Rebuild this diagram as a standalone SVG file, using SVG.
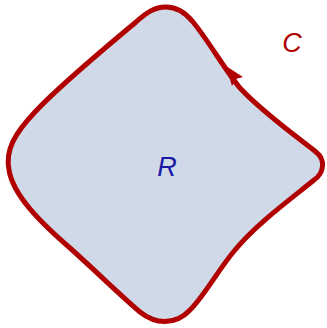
<svg xmlns="http://www.w3.org/2000/svg" width="327" height="328" viewBox="0 0 327 328">
<style>
.region{fill:#cfd9e8;stroke:#b00000;stroke-width:5;stroke-linejoin:round}
.lbl{font-family:"Liberation Sans",Arial,sans-serif;font-style:italic;font-size:27px;text-anchor:middle}
</style>
<g id="region-R">
<path class="region" d="M 316,152 C 300,139 262,112 240,88 C 225,70 208,40 193,22 C 185,12 176,7 166,7 C 154,7 146,13 136,22 C 105,48 60,85 35,112 C 15,133 5,150 9,170 C 13,195 40,222 70,248 C 100,275 120,295 140,312 C 155,324 175,326 190,310 C 205,295 218,270 235,250 C 255,225 292,198 314,180 C 324,173 326,160 316,152 Z"/>
<text class="lbl" x="167" y="176" fill="#1a1aa6">R</text>
</g>
<g id="connectors">
<polygon points="226,66 243,77 236,79 232,86" fill="#b00000"/>
</g>
<g id="curve-C">
<text class="lbl" x="292" y="52" fill="#b00000">C</text>
</g>
</svg>
